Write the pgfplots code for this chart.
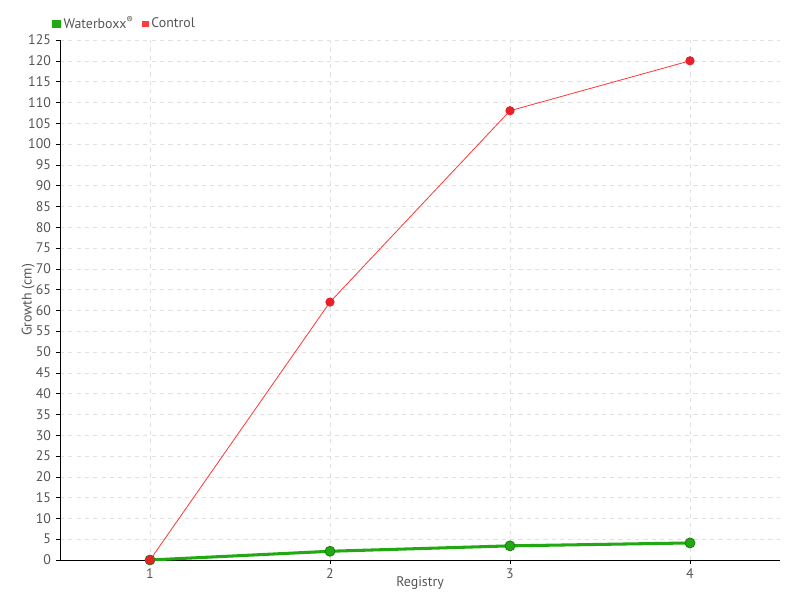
\documentclass[border=0pt]{standalone}
\usepackage{pgfplots}
\pgfplotsset{compat=1.18}
\usepackage{fontspec}
\setmainfont{PT Sans}
\definecolor{tickgray}{HTML}{555555}
\definecolor{gridgray}{HTML}{E0E0E0}
\definecolor{wgreen}{HTML}{22A812}
\definecolor{wgreendark}{HTML}{1A7F10}
\definecolor{cred}{HTML}{E8202A}
\definecolor{credline}{HTML}{FF3B3B}
\begin{document}
\begin{tikzpicture}
\path[use as bounding box] (-43.2pt,-28.8pt) rectangle (532.8pt,403.2pt);
\begin{axis}[
  at={(0pt,0pt)}, anchor=south west,
  scale only axis, width=518.4pt, height=374.4pt,
  xmin=0.5, xmax=4.5, ymin=0, ymax=125,
  axis x line=bottom, axis y line=left,
  axis line style={black, -},
  xtick={1,2,3,4}, ytick distance=5,
  tick style={black, thin},
  tick align=outside, major tick length=3pt,
  grid=major, grid style={gridgray, dashed},
  ticklabel style={font=\fontsize{10}{12}\selectfont, text=tickgray},
  /pgf/number format/assume math mode=true,
  xlabel={Registry}, ylabel={Growth (cm)},
  label style={font=\fontsize{10}{12}\selectfont, text=tickgray},
  xlabel style={yshift=8.5pt},
  ylabel style={yshift=-11.5pt},
  legend columns=2,
  legend style={draw=none, fill=none, at={(-0.017,1.031)}, anchor=west,
    font=\fontsize{10}{12}\selectfont, text=tickgray,
    /tikz/every even column/.append style={column sep=4pt}},
  legend image code/.code={\fill[#1] (0pt,-2pt) rectangle (4pt,2pt);},
]
\addplot[wgreen, line width=2.2pt, mark=*, mark size=3.6pt,
  mark options={fill=wgreen, draw=wgreendark, line width=0.6pt}]
  coordinates {(1,0) (2,2.1) (3,3.4) (4,4.1)};
\addlegendentry{Waterboxx\textsuperscript{\textregistered}}
\addplot[credline, line width=0.6pt, mark=*, mark size=3pt,
  mark options={fill=cred, draw=cred}]
  coordinates {(1,0) (2,62) (3,108) (4,120)};
\addlegendentry{Control}
\end{axis}
\end{tikzpicture}
\end{document}
